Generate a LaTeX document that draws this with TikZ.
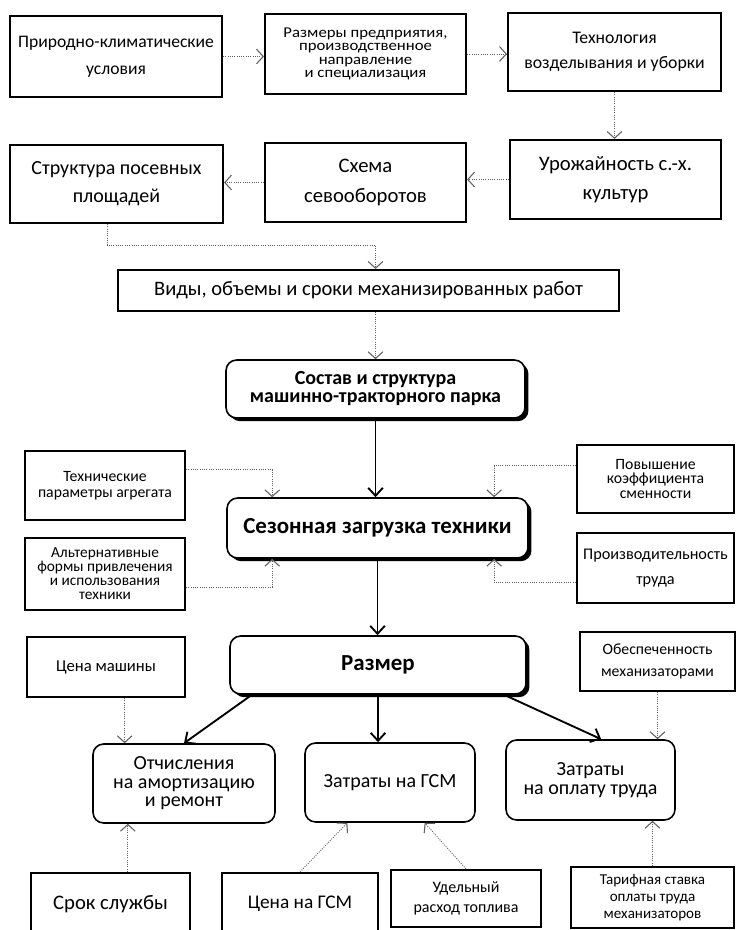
\documentclass[tikz,border=0pt]{standalone}
\usepackage{fontspec}
\setmainfont{Carlito}
\newfontfamily\widefont[FakeStretch=1.12]{Carlito}
\usetikzlibrary{arrows.meta,shadows}

\begin{document}
\begin{tikzpicture}[x=0.75pt,y=-0.75pt,
  box/.style={draw,line width=1.6pt,align=center,inner sep=1pt},
  rbox/.style={draw,line width=1.2pt,rounded corners=8pt,align=center,inner sep=1pt,fill=white},
  keybox/.style={rbox,drop shadow={shadow xshift=2.6pt,shadow yshift=-2.4pt,fill=black,opacity=1}},
  dep/.style={densely dotted,gray!75!black,line width=0.7pt,-{Straight Barb[length=5pt,width=11pt,line width=0.8pt]}},
  flow/.style={line width=1.4pt,-{Straight Barb[length=6pt,width=11pt,line width=1.4pt]}}]
\useasboundingbox (0,0) rectangle (736,930);

\node[box,minimum width=159pt,minimum height=60.75pt,font=\fontsize{13.2}{20}\selectfont] (A) at (116,56.5) {Природно-климатические\\условия};
\node[box,minimum width=150.75pt,minimum height=60pt,font=\widefont\fontsize{11.2}{10}\selectfont] (B) at (365.5,54) {Размеры предприятия,\\производственное\\направление\\и специализация};
\node[box,minimum width=159.75pt,minimum height=58.5pt,font=\fontsize{13.3}{18.75}\selectfont] (C) at (614.5,52) {Технология\\возделывания и уборки};
\node[box,minimum width=159.75pt,minimum height=58.5pt,font=\fontsize{15}{21}\selectfont] (D) at (116.5,184) {Структура посевных\\площадей};
\node[box,minimum width=150.75pt,minimum height=59.25pt,font=\fontsize{15.5}{22.5}\selectfont] (E) at (365.5,182.5) {Схема\\севооборотов};
\node[box,minimum width=158.25pt,minimum height=59.25pt,font=\fontsize{15.5}{21.75}\selectfont] (F) at (615.5,179.5) {Урожайность с.-х.\\культур};
\node[box,minimum width=375.75pt,minimum height=30.75pt,font=\fontsize{15.4}{18}\selectfont] (G) at (368.5,290.5) {Виды, объемы и сроки механизированных работ};
\node[keybox,minimum width=224.25pt,minimum height=43.5pt,font=\fontsize{15}{13.5}\selectfont\bfseries] (H) at (375.5,389) {Состав и структура\\машинно-тракторного парка};

\node[keybox,minimum width=225.75pt,minimum height=45pt,font=\fontsize{17.2}{20}\selectfont\bfseries] (I) at (377.5,528) {Сезонная загрузка техники};
\node[box,minimum width=120pt,minimum height=51.75pt,font=\fontsize{11.8}{11.75}\selectfont] (J) at (105,485.5) {Технические\\параметры агрегата};
\node[box,minimum width=120pt,minimum height=54pt,font=\fontsize{11.5}{10.5}\selectfont] (K) at (105,574) {Альтернативные\\формы привлечения\\и использования\\техники};
\node[box,minimum width=117.75pt,minimum height=51pt,font=\fontsize{11.8}{11}\selectfont] (L) at (655.5,479) {Повышение\\коэффициента\\сменности};
\node[box,minimum width=117.75pt,minimum height=52.5pt,font=\fontsize{12.2}{18.75}\selectfont] (M) at (655.5,568) {Производительность\\труда};

\node[keybox,minimum width=222pt,minimum height=43.5pt,font=\fontsize{17.2}{20}\selectfont\bfseries] (N) at (378,665) {Размер};
\node[box,minimum width=118.5pt,minimum height=45pt,font=\fontsize{12.5}{15}\selectfont] (O) at (106,667) {Цена машины};
\node[box,minimum width=116.25pt,minimum height=44.25pt,font=\fontsize{11.8}{17}\selectfont] (S) at (657.5,661.5) {Обеспеченность\\механизаторами};
\node[rbox,minimum width=136.5pt,minimum height=59.25pt,font=\fontsize{15}{13.8}\selectfont] (P) at (184,783.5) {Отчисления\\на амортизацию\\и ремонт};
\node[rbox,minimum width=127.5pt,minimum height=59.25pt,font=\fontsize{15}{18}\selectfont] (Q) at (390,782.5) {Затраты на ГСМ};
\node[rbox,minimum width=126.75pt,minimum height=60pt,font=\fontsize{15}{14}\selectfont] (R) at (590.5,780) {Затраты\\на оплату труда};

\node[box,minimum width=119.25pt,minimum height=46.5pt,font=\fontsize{15.5}{18}\selectfont] (T) at (110.5,904) {Срок службы};
\node[box,minimum width=117pt,minimum height=46.5pt,font=\fontsize{14.5}{18}\selectfont] (U) at (300,904) {Цена на ГСМ};
\node[box,minimum width=112.5pt,minimum height=42.75pt,font=\fontsize{12}{15}\selectfont] (V) at (466,898.5) {Удельный\\расход топлива};
\node[box,minimum width=122pt,minimum height=45.75pt,font=\fontsize{11.3}{12.75}\selectfont] (W) at (652.5,897.5) {Тарифная ставка\\оплаты труда\\механизаторов};

\draw[dep] (A.east) -- (A.east -| B.west);
\draw[dep] (B.east) -- (B.east -| C.west);
\draw[dep] (C.south) -- (C.south |- F.north);
\draw[dep] (F.west) -- (F.west -| E.east);
\draw[dep] (E.west) -- (E.west -| D.east);
\draw[dep] ([xshift=-7pt]D.south) -- ++(0,21) -| (H.north |- G.north);
\draw[dep] (H.north |- G.south) -- (H.north);
\draw[flow] (H.south) -- (H.south |- I.north);
\draw[dep] ([yshift=12pt]J.east) -| ([xshift=34.5pt]I.north west);
\draw[dep] ([yshift=-10pt]K.east) -| ([xshift=34.5pt]I.south west);
\draw[dep] ([yshift=10pt]L.west) -| ([xshift=-26pt]I.north east);
\draw[dep] ([yshift=-11pt]M.west) -| ([xshift=-26pt]I.south east);
\draw[flow] (I.south) -- (I.south |- N.north);
\draw[flow] ([xshift=17pt]N.south west) -- (P.north);
\draw[flow] (N.south) -- (N.south |- Q.north);
\draw[flow] ([xshift=-17pt]N.south east) -- ([xshift=8pt]R.north);
\draw[dep] ([xshift=14pt]O.south) -- ([xshift=14pt]O.south |- P.north);
\draw[dep] ([xshift=13pt]T.north) -- ([xshift=13pt]T.north |- P.south);
\draw[dep] (S.south) -- (S.south |- R.north);
\draw[dep] (U.north) -- ([xshift=-32pt]Q.south);
\draw[dep] (V.north) -- ([xshift=26pt]Q.south);
\draw[dep] (W.north) -- (W.north |- R.south);
\end{tikzpicture}
\end{document}
